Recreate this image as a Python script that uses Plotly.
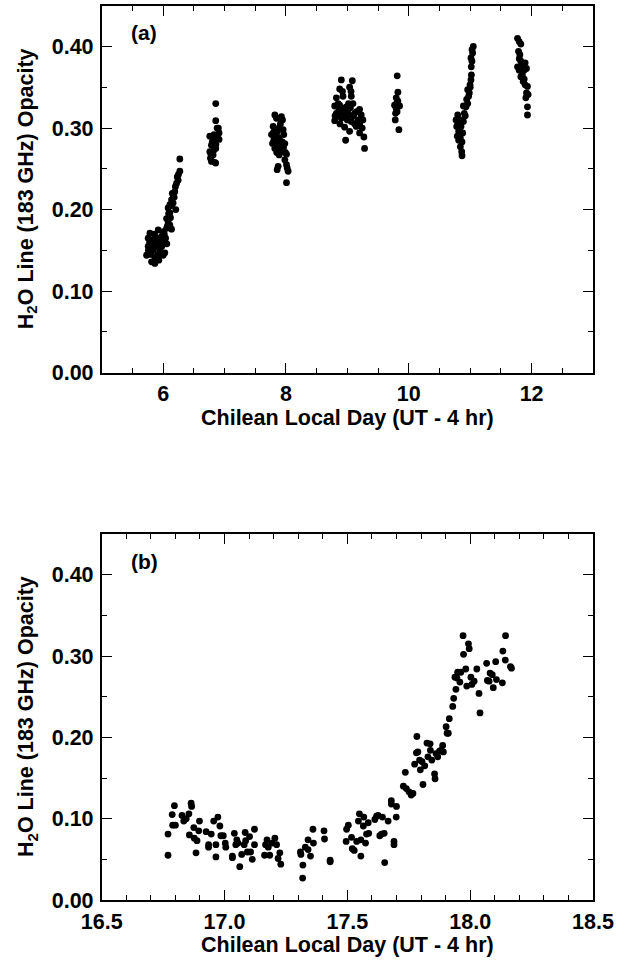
import plotly.graph_objects as go

# ---------------- Panel (a) data: Chilean local day vs H2O opacity ----------------
a_x = [
    # cluster near day 6
    6.272, 6.272, 6.245, 6.218, 6.191, 6.163, 6.137, 6.110, 6.163, 6.082, 6.207, 6.110,
    6.056, 6.082, 6.110, 6.056, 6.137, 6.001, 5.920, 5.785, 5.975, 5.757, 5.830, 5.894,
    6.001, 5.757, 5.812, 5.947, 6.028, 5.731, 5.866, 6.001, 5.812, 5.866,
    5.780, 5.840, 5.900, 5.950, 5.860, 5.800, 5.920, 5.980, 6.040, 6.060, 5.880, 5.760,
    5.830, 5.930, 6.020, 6.090, 6.140, 6.180, 6.200, 6.230, 6.250, 6.120, 6.070, 6.150,
    # cluster near 6.8
    6.857, 6.857, 6.879, 6.911, 6.760, 6.841, 6.911, 6.787, 6.857, 6.760, 6.814, 6.771,
    6.857, 6.787, 6.800, 6.830, 6.880, 6.780, 6.840, 6.900, 6.860, 6.820,
    # cluster near 7.9
    7.819, 7.846, 7.927, 7.944, 7.792, 7.890, 7.955, 7.765, 7.835, 7.900, 7.965, 7.781,
    7.873, 7.982, 7.819, 7.927, 8.009, 7.890, 7.982, 7.873, 7.857, 8.009, 8.020, 8.036,
    8.009, 7.803, 7.860, 7.910, 7.800, 7.940, 7.880, 7.830, 7.960, 7.910, 7.850, 7.990,
    # cluster near 9.0
    8.902, 9.081, 8.875, 9.037, 8.821, 8.929, 9.064, 8.794, 8.875, 8.983, 9.091, 9.199,
    8.821, 8.929, 9.026, 9.118, 9.226, 8.794, 8.902, 8.983, 9.064, 9.172, 9.253, 8.956,
    9.037, 9.145, 9.242, 9.199, 8.972, 9.269, 9.280, 8.864, 9.010,
    8.850, 8.900, 8.950, 9.000, 9.050, 9.100, 9.150, 8.800, 8.880, 9.200, 9.020, 8.920,
    9.060, 8.860, 9.120,
    # cluster near 9.8
    9.812, 9.823, 9.796, 9.823, 9.769, 9.850, 9.796, 9.785, 9.780, 9.839, 9.810, 9.800,
    # cluster near 10.9
    10.797, 10.781, 10.813, 10.851, 10.835, 10.878, 10.813, 10.867, 10.840, 10.862, 10.867,
    10.889, 10.905, 10.889, 10.932, 10.943, 10.975, 10.959, 10.997, 11.013, 10.986, 11.018,
    11.029, 11.040, 11.051, 11.030, 11.013, 10.770, 10.800, 10.830, 10.790, 10.840, 10.920,
    10.960, 11.000, 11.020, 10.850,
    # cluster near 11.85
    11.771, 11.798, 11.825, 11.787, 11.809, 11.825, 11.771, 11.852, 11.895, 11.798, 11.879,
    11.917, 11.825, 11.863, 11.895, 11.933, 11.917, 11.944, 11.906, 11.933, 11.933,
    11.800, 11.850, 11.880, 11.830,
]
a_y = [
    0.262, 0.247, 0.236, 0.232, 0.222, 0.218, 0.212, 0.206, 0.208, 0.202, 0.200, 0.196,
    0.189, 0.185, 0.181, 0.177, 0.176, 0.173, 0.175, 0.171, 0.167, 0.165, 0.163, 0.159,
    0.159, 0.155, 0.151, 0.151, 0.147, 0.144, 0.142, 0.144, 0.136, 0.134,
    0.160, 0.150, 0.165, 0.160, 0.170, 0.145, 0.145, 0.155, 0.165, 0.158, 0.155, 0.150,
    0.158, 0.138, 0.170, 0.195, 0.205, 0.215, 0.228, 0.240, 0.243, 0.190, 0.180, 0.220,
    0.330, 0.309, 0.300, 0.294, 0.290, 0.286, 0.286, 0.279, 0.275, 0.271, 0.267, 0.263,
    0.257, 0.259, 0.283, 0.292, 0.290, 0.268, 0.258, 0.300, 0.280, 0.272,
    0.316, 0.312, 0.314, 0.310, 0.302, 0.300, 0.298, 0.292, 0.290, 0.285, 0.292, 0.281,
    0.277, 0.281, 0.275, 0.271, 0.268, 0.267, 0.261, 0.253, 0.249, 0.255, 0.251, 0.247,
    0.233, 0.285, 0.295, 0.305, 0.295, 0.283, 0.288, 0.282, 0.276, 0.278, 0.270, 0.270,
    0.359, 0.358, 0.348, 0.350, 0.337, 0.339, 0.339, 0.327, 0.328, 0.326, 0.330, 0.323,
    0.318, 0.320, 0.316, 0.318, 0.316, 0.309, 0.312, 0.314, 0.308, 0.310, 0.310, 0.301,
    0.296, 0.302, 0.300, 0.294, 0.285, 0.289, 0.275, 0.322, 0.322,
    0.330, 0.325, 0.318, 0.310, 0.325, 0.315, 0.320, 0.315, 0.305, 0.305, 0.330, 0.345,
    0.345, 0.315, 0.305,
    0.364, 0.344, 0.337, 0.333, 0.328, 0.327, 0.324, 0.318, 0.310, 0.298, 0.320, 0.330,
    0.316, 0.302, 0.296, 0.302, 0.292, 0.294, 0.285, 0.283, 0.277, 0.271, 0.266,
    0.308, 0.318, 0.327, 0.326, 0.335, 0.339, 0.347, 0.353, 0.359, 0.343, 0.375,
    0.382, 0.392, 0.400, 0.396, 0.386, 0.310, 0.305, 0.300, 0.290, 0.288, 0.315,
    0.330, 0.350, 0.365, 0.310,
    0.410, 0.406, 0.403, 0.394, 0.390, 0.382, 0.375, 0.378, 0.380, 0.371, 0.371,
    0.373, 0.363, 0.357, 0.353, 0.351, 0.343, 0.341, 0.337, 0.326, 0.316,
    0.385, 0.365, 0.360, 0.375,
]

# ---------------- Panel (b) data ----------------
b_x = [
    16.770, 16.770, 16.787, 16.796, 16.789, 16.800, 16.827, 16.834, 16.844, 16.855, 16.864,
    16.866, 16.857, 16.875, 16.877, 16.884, 16.888, 16.898, 16.895, 16.925, 16.935, 16.935,
    16.946, 16.956, 16.965, 16.965, 16.973, 16.981, 16.985, 16.995, 17.003, 17.005, 17.032,
    17.032, 17.040, 17.046, 17.050, 17.055, 17.062, 17.070, 17.080, 17.084, 17.086, 17.093,
    17.102, 17.106, 17.113, 17.122, 17.122, 17.163, 17.167, 17.173, 17.178, 17.184, 17.194,
    17.205, 17.212, 17.218, 17.225, 17.229, 17.309, 17.311, 17.318, 17.319, 17.329, 17.340,
    17.350, 17.360, 17.362, 17.340,
    17.405, 17.407, 17.430, 17.430, 17.495, 17.497, 17.504, 17.517, 17.520, 17.528, 17.538,
    17.545, 17.549, 17.555, 17.555, 17.565, 17.567, 17.574, 17.578, 17.585, 17.587, 17.612,
    17.619, 17.625, 17.632, 17.639, 17.643, 17.650, 17.652, 17.666, 17.679, 17.679, 17.690,
    17.690, 17.700, 17.699, 17.736, 17.728, 17.740, 17.751, 17.760, 17.767, 17.774, 17.783,
    17.781, 17.787, 17.794, 17.797, 17.804, 17.808, 17.815, 17.824, 17.828, 17.837, 17.838,
    17.844, 17.855, 17.857, 17.861, 17.868, 17.875, 17.881, 17.891, 17.888, 17.902, 17.906,
    17.911, 17.915, 17.929, 17.933, 17.942, 17.938, 17.949, 17.946, 17.958, 17.962, 17.971,
    17.973, 17.982, 17.986, 17.993, 17.996, 18.003, 18.007, 18.016, 18.027, 18.036, 18.040,
    18.067, 18.070, 18.077, 18.081, 18.090, 18.094, 18.104, 18.107, 18.131, 18.133, 18.143,
    18.144, 18.164, 18.168,
]
b_y = [
    0.081, 0.055, 0.105, 0.116, 0.092, 0.092, 0.104, 0.097, 0.100, 0.106, 0.119,
    0.115, 0.080, 0.089, 0.076, 0.058, 0.073, 0.097, 0.085, 0.084, 0.068, 0.065,
    0.081, 0.097, 0.053, 0.068, 0.102, 0.091, 0.079, 0.079, 0.070, 0.065, 0.054,
    0.052, 0.082, 0.068, 0.074, 0.070, 0.041, 0.056, 0.068, 0.083, 0.073, 0.059,
    0.078, 0.059, 0.050, 0.087, 0.068, 0.055, 0.068, 0.074, 0.065, 0.055, 0.070,
    0.076, 0.068, 0.051, 0.058, 0.044, 0.059, 0.056, 0.027, 0.043, 0.065, 0.074,
    0.054, 0.087, 0.070, 0.062,
    0.085, 0.075, 0.049, 0.047, 0.072, 0.087, 0.092, 0.077, 0.063, 0.061, 0.072,
    0.097, 0.106, 0.074, 0.054, 0.091, 0.102, 0.070, 0.081, 0.095, 0.082, 0.099,
    0.103, 0.104, 0.079, 0.081, 0.102, 0.082, 0.046, 0.097, 0.122, 0.118, 0.072,
    0.068, 0.115, 0.102, 0.157, 0.140, 0.137, 0.133, 0.129, 0.131, 0.167, 0.201,
    0.181, 0.182, 0.172, 0.160, 0.170, 0.142, 0.165, 0.193, 0.176, 0.192, 0.184,
    0.172, 0.155, 0.149, 0.180, 0.176, 0.183, 0.184, 0.182, 0.190, 0.213, 0.205,
    0.205, 0.223, 0.238, 0.248, 0.259, 0.274, 0.280, 0.273, 0.268, 0.280, 0.325,
    0.302, 0.284, 0.263, 0.315, 0.309, 0.274, 0.265, 0.269, 0.284, 0.254, 0.230,
    0.291, 0.270, 0.269, 0.279, 0.277, 0.261, 0.293, 0.271, 0.267, 0.306, 0.295,
    0.325, 0.287, 0.285,
]

y_tick_vals = [0.0, 0.1, 0.2, 0.3, 0.4]
y_tick_text = ["0.00", "0.10", "0.20", "0.30", "0.40"]
a_tick_vals = [6, 8, 10, 12]
a_tick_text = ["6", "8", "10", "12"]
b_tick_vals = [16.5, 17.0, 17.5, 18.0, 18.5]
b_tick_text = ["16.5", "17.0", "17.5", "18.0", "18.5"]

FONT = "Liberation Sans"
W, H = 629, 962
X0, X1 = 101.7, 593.0
A_TOP, A_BOT = 5.7, 372.7
B_TOP, B_BOT = 534.0, 900.0

fig = go.Figure()
marker = dict(color="black", size=6.8, line=dict(width=0))
fig.add_trace(go.Scatter(x=a_x, y=a_y, mode="markers", marker=marker,
                         xaxis="x", yaxis="y", showlegend=False))
fig.add_trace(go.Scatter(x=b_x, y=b_y, mode="markers", marker=marker,
                         xaxis="x2", yaxis="y2", showlegend=False))

tickfont = dict(family=FONT, size=21.5, color="black", weight="bold")
common = dict(showline=True, linecolor="black", linewidth=1.6, mirror="ticks",
              ticks="inside", ticklen=10, tickwidth=1.4, tickcolor="black",
              showgrid=False, zeroline=False, tickfont=tickfont, automargin=False)

def xd(v):
    return v / W

def yd(v):
    return 1 - v / H

fig.update_layout(
    width=W, height=H,
    margin=dict(l=0, r=0, t=0, b=0),
    paper_bgcolor="white", plot_bgcolor="white",
    xaxis=dict(domain=[xd(X0), xd(X1)], range=[5, 13], anchor="y",
               tickvals=a_tick_vals, ticktext=a_tick_text, ticklabelstandoff=1,
               minor=dict(dtick=0.5, tick0=5, ticks="inside", ticklen=5, tickwidth=1.4, tickcolor="black"),
               **common),
    yaxis=dict(domain=[yd(A_BOT), yd(A_TOP)], range=[0, 0.45], anchor="x",
               tickvals=y_tick_vals, ticktext=y_tick_text, ticklabelstandoff=2,
               minor=dict(dtick=0.05, tick0=0, ticks="inside", ticklen=5, tickwidth=1.4, tickcolor="black"),
               **common),
    xaxis2=dict(domain=[xd(X0), xd(X1)], range=[16.5, 18.5], anchor="y2",
                tickvals=b_tick_vals, ticktext=b_tick_text, ticklabelstandoff=1,
                minor=dict(dtick=0.1, tick0=16.5, ticks="inside", ticklen=5, tickwidth=1.4, tickcolor="black"),
                **common),
    yaxis2=dict(domain=[yd(B_BOT), yd(B_TOP)], range=[0, 0.45], anchor="x2",
                tickvals=y_tick_vals, ticktext=y_tick_text, ticklabelstandoff=2,
                minor=dict(dtick=0.05, tick0=0, ticks="inside", ticklen=5, tickwidth=1.4, tickcolor="black"),
                **common),
)

tfont = dict(family=FONT, size=21.5, color="black", weight="bold")
ytitle = "H<sub>2</sub>O Line (183 GHz) Opacity"
xtitle = "Chilean Local Day (UT - 4 hr)"
ann = []
for top, bot, lab in [(A_TOP, A_BOT, "(a)"), (B_TOP, B_BOT, "(b)")]:
    ann.append(dict(text=ytitle, textangle=-90, xref="paper", yref="paper",
                    x=xd(27), y=yd((top + bot) / 2), xanchor="center", yanchor="middle",
                    showarrow=False, font=tfont))
    ann.append(dict(text=xtitle, xref="paper", yref="paper",
                    x=xd((X0 + X1) / 2), y=yd(bot + 45), xanchor="center", yanchor="middle",
                    showarrow=False, font=tfont))
    ann.append(dict(text=lab, xref="paper", yref="paper",
                    x=xd(129), y=yd(top + 27), xanchor="left", yanchor="middle",
                    showarrow=False, font=dict(family=FONT, size=21, color="black", weight="bold")))
fig.update_layout(annotations=ann)

fig.write_html("out.html")
